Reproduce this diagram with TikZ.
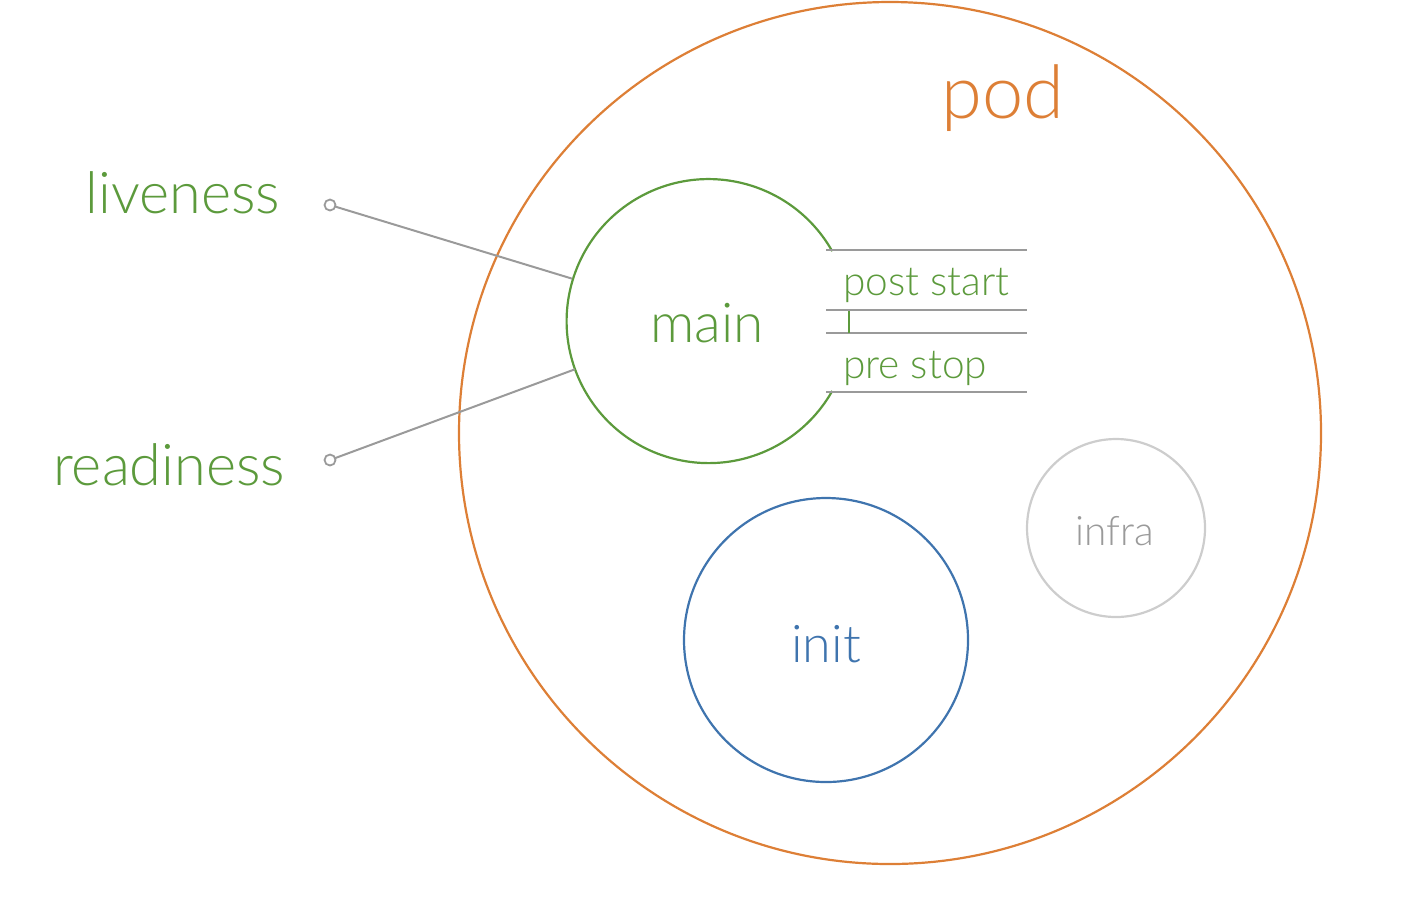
\documentclass[tikz,border=0pt]{standalone}
\usepackage{fontspec}
\setmainfont{Lato Light}
\definecolor{podorange}{HTML}{DD7F36}
\definecolor{maingreen}{HTML}{5C9A3C}
\definecolor{initblue}{HTML}{3F74AE}
\definecolor{linegray}{HTML}{9A9A9A}
\definecolor{infragray}{HTML}{CDCDCD}
\tikzset{
  ring/.style={circle, draw, line width=1.1pt, inner sep=0pt, outer sep=0pt},
  port/.style={circle, draw=linegray, line width=0.9pt, minimum size=5.5pt, inner sep=0pt, outer sep=0pt},
  probe/.style={linegray, line width=1pt},
  hookline/.style={linegray, line width=1.3pt},
  tag/.style={inner sep=0pt, outer sep=0pt}
}
\begin{document}
\begin{tikzpicture}[x=0.5pt, y=-0.5pt]
        \useasboundingbox (0,0) rectangle (1416,912);
        \node[ring, podorange, minimum size=431pt] (pod) at (890,433) {};
        \node[circle, inner sep=0pt, outer sep=0pt, minimum size=142pt] (main) at (708,320) {};
        \node[ring, initblue, minimum size=142pt] (init) at (826,640) {};
        \node[ring, infragray, minimum size=89pt] (infra) at (1116,528) {};

        \node[port] (lport) at (330,205) {};
        \node[port] (rport) at (330,460) {};

        % labels
        \node[tag, anchor=base, podorange, font=\fontsize{37}{42}\selectfont] (podlabel) at (1003,118) {pod};
        \node[tag, anchor=base, maingreen, font=\fontsize{27.5}{32}\selectfont] (mainlabel) at (707,342) {main};
        \node[tag, anchor=base, initblue, font=\fontsize{26}{30}\selectfont] (initlabel) at (826,662) {init};
        \node[tag, anchor=base, linegray, font=\fontsize{20.3}{24}\selectfont] (infralabel) at (1115,545) {infra};
        \node[tag, anchor=base east, maingreen, font=\fontsize{28.8}{33}\selectfont] (liveness) at (280,213) {liveness};
        \node[tag, anchor=base east, maingreen, font=\fontsize{28.8}{33}\selectfont] (readiness) at (285,485) {readiness};
        \node[tag, anchor=base west, maingreen, font=\fontsize{20.3}{24}\selectfont] (poststart) at (843,295) {post start};
        \node[tag, anchor=base west, maingreen, font=\fontsize{20.3}{24}\selectfont] (prestop) at (843,378) {pre stop};

        \draw[maingreen, line width=1.1pt] (main.29.5) arc[start angle=29.5, end angle=330.5, radius=71pt];
        \draw[hookline] (826,250) -- (1027,250);
        \draw[hookline] (826,310) -- (1027,310);
        \draw[hookline] (826,333) -- (1027,333);
        \draw[hookline] (826,392) -- (1027,392);
        \draw[maingreen, line width=1.1pt] (849,311) -- (849,333);

        \draw[probe] (lport) to (main);
        \draw[probe] (rport) to (main);

      \end{tikzpicture}
\end{document}
